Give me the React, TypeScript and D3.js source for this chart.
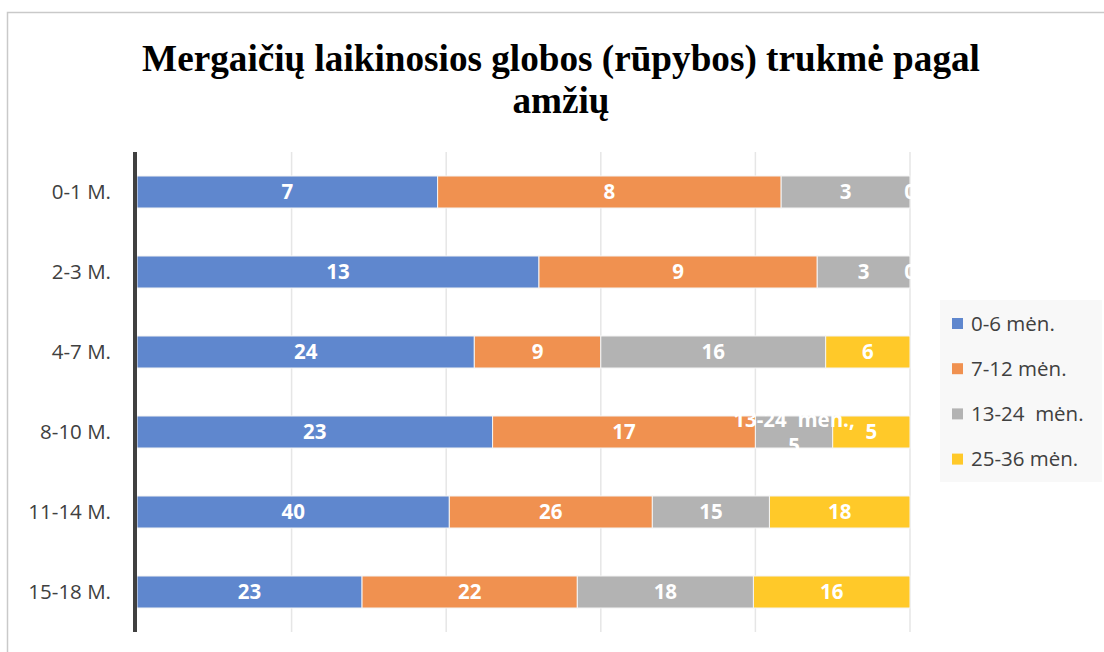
import React from "react";
import * as d3 from "d3";

const categories = ["0-1 M.", "2-3 M.", "4-7 M.", "8-10 M.", "11-14 M.", "15-18 M."];
const seriesNames = ["0-6 mėn.", "7-12 mėn.", "13-24  mėn.", "25-36 mėn."];
const s0_6 = [7, 13, 24, 23, 40, 23];
const s7_12 = [8, 9, 9, 17, 26, 22];
const s13_24 = [3, 3, 16, 5, 15, 18];
const s25_36 = [0, 0, 6, 5, 18, 16];
const colors = ["#5F87CE", "#F09150", "#B3B3B3", "#FFC929"];
const xTicks = [0, 0.2, 0.4, 0.6, 0.8, 1];

const W = 1104, H = 652;
const plot = { left: 137, right: 910, top: 152, bottom: 632 };

export default function App() {
  const series = [s0_6, s7_12, s13_24, s25_36];
  const x = d3.scaleLinear().domain([0, 1]).range([plot.left, plot.right]);
  const y = d3.scaleBand<string>().domain(categories).range([plot.top, plot.bottom]).paddingInner(0.6).paddingOuter(0.3);
  const rows = categories.map((c, i) => {
    const vals = series.map((s) => s[i]);
    const total = d3.sum(vals);
    let acc = 0;
    return vals.map((v, k) => {
      const x0 = acc / total;
      acc += v;
      return { cat: c, k, v, x0, x1: acc / total };
    });
  });
  const labelFont = "'Open Sans', sans-serif";
  const fs = 20.5;
  return (
    <svg width={W} height={H} style={{ position: "absolute", left: 0, top: 0 }}>
      <rect x={0} y={0} width={W} height={H} fill="#fff" />
      <rect x={7.5} y={12.5} width={W + 10} height={H + 10} fill="none" stroke="#c9c9c9" strokeWidth={1.5} />
      <text x={561} y={71} textAnchor="middle" fontFamily="'Liberation Serif', 'Times New Roman', serif" fontWeight="bold" fontSize={37.2} fill="#000">
        Mergaičių laikinosios globos (rūpybos) trukmė pagal
      </text>
      <text x={561} y={113} textAnchor="middle" fontFamily="'Liberation Serif', 'Times New Roman', serif" fontWeight="bold" fontSize={37.2} fill="#000">
        amžių
      </text>
      {xTicks.slice(1).map((t) => (
        <line key={t} x1={x(t)} x2={x(t)} y1={plot.top} y2={plot.bottom} stroke="#e6e6e6" strokeWidth={1.5} />
      ))}
      {rows.map((r) =>
        r.map((seg) => (
          <rect key={seg.cat + seg.k} x={x(seg.x0)} y={y(seg.cat)} width={Math.max(0, x(seg.x1) - x(seg.x0))} height={y.bandwidth()} fill={colors[seg.k]} stroke="#f4f4f4" strokeWidth={1} />
        ))
      )}
      <line x1={135} x2={135} y1={plot.top} y2={plot.bottom} stroke="#404040" strokeWidth={4} />
      {categories.map((c) => (
        <text key={c} x={111} y={(y(c) as number) + y.bandwidth() / 2} dy="0.36em" textAnchor="end" fontFamily={labelFont} fontSize={fs} fill="#404040">
          {c}
        </text>
      ))}
      {rows.map((r) =>
        r.map((seg) => {
          const cx = (x(seg.x0) + x(seg.x1)) / 2;
          const cy = (y(seg.cat) as number) + y.bandwidth() / 2;
          if (seg.cat === "8-10 M." && seg.k === 2) {
            return (
              <text key={"l" + seg.cat + seg.k} x={cx} y={cy} textAnchor="middle" fontFamily={labelFont} fontWeight="bold" fontSize={fs} fill="#fff" style={{ whiteSpace: "pre" }}>
                <tspan x={cx} y={cy - 5}>{seriesNames[2] + ","}</tspan>
                <tspan x={cx} y={cy + 21}>{String(seg.v)}</tspan>
              </text>
            );
          }
          return (
            <text key={"l" + seg.cat + seg.k} x={cx} y={cy} dy="0.36em" textAnchor="middle" fontFamily={labelFont} fontWeight="bold" fontSize={fs} fill="#fff">
              {seg.v}
            </text>
          );
        })
      )}
      <rect x={940} y={300} width={162} height={182} fill="#f8f8f8" />
      {seriesNames.map((n, i) => {
        const cy = 323.5 + i * 45.2;
        return (
          <g key={n}>
            <rect x={952} y={cy - 5.5} width={11} height={11} fill={colors[i]} />
            <text x={971} y={cy} dy="0.36em" fontFamily={labelFont} fontSize={fs} fill="#404040" style={{ whiteSpace: "pre" }}>{n}</text>
          </g>
        );
      })}
    </svg>
  );
}
